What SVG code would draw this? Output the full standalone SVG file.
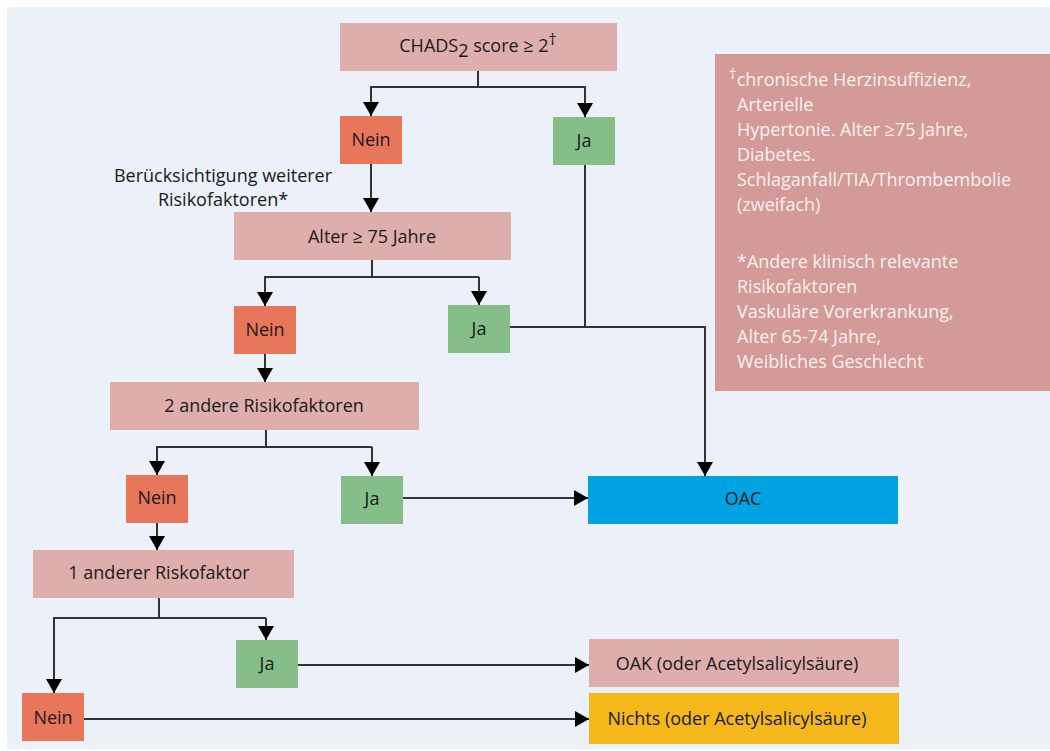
<svg xmlns="http://www.w3.org/2000/svg" width="1050" height="751" viewBox="0 0 1050 751">
<defs>
<marker id="arr" markerUnits="userSpaceOnUse" markerWidth="16" markerHeight="16" viewBox="0 0 14 16" refX="14" refY="8" orient="auto">
<path d="M0,0 L14,8 L0,16 z" fill="#000"/>
</marker>
<style>
text{font-family:"Open Sans","Liberation Sans",sans-serif;font-size:18px;fill:#1a1a1a;text-anchor:middle}
.q{fill:#DEAEAD}
.n{fill:#E8765A}
.j{fill:#85BE88}
.c{fill:none;stroke:#333;stroke-width:2}
.a{marker-end:url(#arr)}
.note text{fill:#FBF1F1;text-anchor:start}
</style>
</defs>
<rect x="0" y="0" width="1050" height="751" fill="#ffffff"/>
<rect x="7" y="7" width="1043" height="742" fill="#ECF0F9"/>

<g id="connectors">
<path class="c" d="M478 71 V87 H585 V165 V327"/>
<path class="c a" d="M478 87 H371 V116"/>
<path class="c a" d="M585 87 V117"/>
<path class="c a" d="M371 164 V212"/>
<path class="c a" d="M510 327 H705 V476"/>
<path class="c" d="M372 260 V277 H479"/>
<path class="c a" d="M372 277 H265 V306"/>
<path class="c a" d="M479 277 V305"/>
<path class="c a" d="M265 354 V382"/>
<path class="c" d="M266 430 V447 H372"/>
<path class="c a" d="M266 447 H157 V475"/>
<path class="c a" d="M372 447 V476"/>
<path class="c a" d="M403 498 H588"/>
<path class="c a" d="M157 523 V550"/>
<path class="c" d="M159 598 V618 H266"/>
<path class="c a" d="M159 618 H54 V693"/>
<path class="c a" d="M266 618 V640"/>
<path class="c a" d="M298 665 H589"/>
<path class="c a" d="M84 719 H589"/>
</g>

<g id="chads">
<rect class="q" x="340" y="23" width="277" height="48"/>
<text x="478" y="52">CHADS<tspan dy="5">2</tspan><tspan dy="-5"> score ≥ 2</tspan><tspan dy="-7" font-size="16">†</tspan></text>
</g>
<g id="nein1"><rect class="n" x="340" y="116" width="62" height="48"/><text x="371" y="146">Nein</text></g>
<g id="ja1"><rect class="j" x="553" y="117" width="62" height="48"/><text x="584" y="147">Ja</text></g>
<g id="label-weitere">
<text x="223" y="182">Berücksichtigung weiterer</text>
<text x="223" y="206">Risikofaktoren*</text>
</g>
<g id="alter"><rect class="q" x="234" y="212" width="277" height="48"/><text x="372" y="243">Alter ≥ 75 Jahre</text></g>
<g id="nein2"><rect class="n" x="234" y="306" width="62" height="48"/><text x="265" y="336">Nein</text></g>
<g id="ja2"><rect class="j" x="448" y="305" width="62" height="48"/><text x="479" y="335">Ja</text></g>
<g id="zwei"><rect class="q" x="110" y="382" width="309" height="48"/><text x="264" y="412">2 andere Risikofaktoren</text></g>
<g id="nein3"><rect class="n" x="126" y="475" width="62" height="48"/><text x="157" y="504">Nein</text></g>
<g id="ja3"><rect class="j" x="341" y="476" width="62" height="48"/><text x="372" y="505">Ja</text></g>
<g id="oac"><rect fill="#00A3E2" x="588" y="476" width="310" height="48"/><text x="743" y="505">OAC</text></g>
<g id="eins"><rect class="q" x="33" y="550" width="261" height="48"/><text x="159" y="579">1 anderer Riskofaktor</text></g>
<g id="ja4"><rect class="j" x="236" y="640" width="62" height="48"/><text x="267" y="670">Ja</text></g>
<g id="nein4"><rect class="n" x="22" y="693" width="62" height="48"/><text x="53" y="724">Nein</text></g>
<g id="oak"><rect class="q" x="589" y="639" width="310" height="48"/><text x="737" y="670">OAK (oder Acetylsalicylsäure)</text></g>
<g id="nichts"><rect fill="#F5B81A" x="589" y="693" width="310" height="51"/><text x="737" y="725">Nichts (oder Acetylsalicylsäure)</text></g>

<g id="note" class="note">
<rect fill="#D49A97" x="715" y="54" width="335" height="337"/>
<text x="729" y="86"><tspan dy="-7" font-size="15">†</tspan><tspan dy="7">chronische Herzinsuffizienz,</tspan></text>
<text x="737" y="111">Arterielle</text>
<text x="737" y="136">Hypertonie. Alter ≥75 Jahre,</text>
<text x="737" y="161">Diabetes.</text>
<text x="737" y="186">Schlaganfall/TIA/Thrombembolie</text>
<text x="737" y="211">(zweifach)</text>
<text x="737" y="268">*Andere klinisch relevante</text>
<text x="737" y="293">Risikofaktoren</text>
<text x="737" y="318">Vaskuläre Vorerkrankung,</text>
<text x="737" y="343">Alter 65-74 Jahre,</text>
<text x="737" y="368">Weibliches Geschlecht</text>
</g>
</svg>
